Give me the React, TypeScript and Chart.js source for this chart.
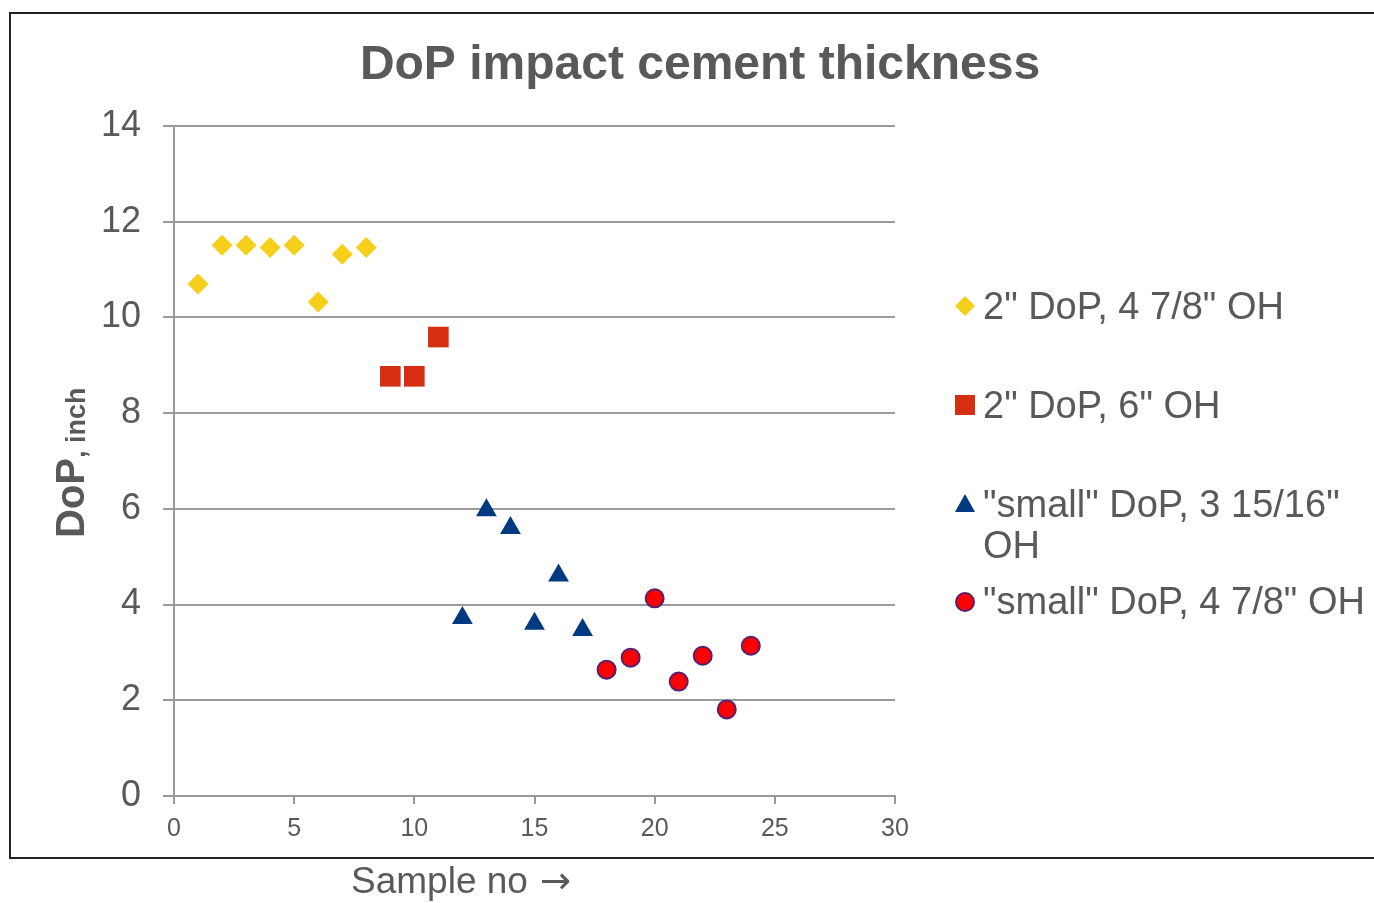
import React, { useEffect, useRef } from 'react';
import { Chart, registerables } from 'chart.js';

Chart.register(...registerables);

const chartTitle = 'DoP impact cement thickness';
const xAxisTitle = 'Sample no';
const xAxisArrow = '\u2192';
const yAxisTitleMain = 'DoP';
const yAxisTitleSub = ', inch';

const xMin = 0;
const xMax = 30;
const xStep = 5;
const yMin = 0;
const yMax = 14;
const yStep = 2;

const seriesNames = [
  '2" DoP, 4 7/8" OH',
  '2" DoP, 6" OH',
  '"small" DoP, 3 15/16" OH',
  '"small" DoP, 4 7/8" OH',
];
const legendLines = [
  ['2" DoP, 4 7/8" OH'],
  ['2" DoP, 6" OH'],
  ['"small" DoP, 3 15/16"', 'OH'],
  ['"small" DoP, 4 7/8" OH'],
];

const s1x = [1, 2, 3, 4, 5, 6, 7, 8];
const s1y = [10.7, 11.51, 11.51, 11.46, 11.51, 10.32, 11.32, 11.46];

const s2x = [9, 10, 11];
const s2y = [8.77, 8.77, 9.59];

const s3x = [12, 13, 14, 15, 16, 17];
const s3y = [3.72, 5.97, 5.6, 3.6, 4.61, 3.47];

const s4x = [18, 19, 20, 21, 22, 23, 24];
const s4y = [2.64, 2.89, 4.13, 2.39, 2.93, 1.81, 3.14];

const TEXT = '#595959';
const GRID = '#9a9a9a';
const FONT = "'Liberation Sans', Arial, sans-serif";

const pts = (xs: number[], ys: number[]) => xs.map((x, i) => ({ x, y: ys[i] }));

function drawMarker(ctx: CanvasRenderingContext2D, kind: number, x: number, y: number) {
  ctx.save();
  ctx.beginPath();
  if (kind === 0) {
    const r = 10;
    ctx.moveTo(x - r, y);
    ctx.lineTo(x, y - r);
    ctx.lineTo(x + r, y);
    ctx.lineTo(x, y + r);
    ctx.closePath();
    ctx.fillStyle = '#F6CF1A';
    ctx.fill();
  } else if (kind === 1) {
    ctx.rect(x - 10, y - 10, 20, 20);
    ctx.fillStyle = '#D52E12';
    ctx.fill();
  } else if (kind === 2) {
    ctx.moveTo(x, y - 10);
    ctx.lineTo(x + 10, y + 8);
    ctx.lineTo(x - 10, y + 8);
    ctx.closePath();
    ctx.fillStyle = '#023A82';
    ctx.fill();
  } else {
    ctx.arc(x, y, 9, 0, Math.PI * 2);
    ctx.fillStyle = '#FF0000';
    ctx.fill();
    ctx.lineWidth = 2;
    ctx.strokeStyle = '#5A2070';
    ctx.stroke();
  }
  ctx.restore();
}

const decorPlugin = {
  id: 'decor',
  afterDraw(chart: any) {
    const ctx: CanvasRenderingContext2D = chart.ctx;
    ctx.save();
    // frame
    ctx.strokeStyle = '#222222';
    ctx.lineWidth = 2;
    ctx.strokeRect(10, 13, 1400, 845);

    // title
    ctx.fillStyle = TEXT;
    ctx.font = `bold 48px ${FONT}`;
    ctx.textAlign = 'center';
    ctx.textBaseline = 'alphabetic';
    ctx.fillText(chartTitle, 700, 79);

    // x axis title
    ctx.font = `37px ${FONT}`;
    ctx.textAlign = 'left';
    ctx.fillText(xAxisTitle, 351, 893);
    ctx.font = `37px 'DejaVu Sans', sans-serif`;
    ctx.fillText(xAxisArrow, 540, 893);

    // y axis title (rotated)
    ctx.save();
    ctx.translate(84, 538);
    ctx.rotate(-Math.PI / 2);
    ctx.font = `bold 40px ${FONT}`;
    ctx.textAlign = 'left';
    ctx.fillText(yAxisTitleMain, 0, 0);
    const w = ctx.measureText(yAxisTitleMain).width;
    ctx.font = `bold 27px ${FONT}`;
    ctx.fillText(yAxisTitleSub, w, 1);
    ctx.restore();

    // legend
    const markerY = [306, 405, 504, 602];
    const baseY = [319, 418, 517, 614];
    ctx.font = `38px ${FONT}`;
    ctx.fillStyle = TEXT;
    ctx.textAlign = 'left';
    legendLines.forEach((lines, i) => {
      drawMarker(ctx, i, 965, markerY[i]);
      ctx.fillStyle = TEXT;
      lines.forEach((ln, j) => {
        ctx.fillText(ln, 983, baseY[i] + j * 41);
      });
    });
    ctx.restore();
  },
};

export default function App() {
  const ref = useRef<HTMLCanvasElement | null>(null);

  useEffect(() => {
    if (!ref.current) return;
    const chart = new Chart(ref.current, {
      type: 'scatter',
      data: {
        datasets: [
          {
            label: seriesNames[0],
            data: pts(s1x, s1y),
            pointStyle: 'rectRot',
            pointRadius: 10.5,
            backgroundColor: '#F6CF1A',
            borderColor: '#F6CF1A',
            borderWidth: 0,
          },
          {
            label: seriesNames[1],
            data: pts(s2x, s2y),
            pointStyle: 'rect',
            pointRadius: 14.6,
            backgroundColor: '#D52E12',
            borderColor: '#D52E12',
            borderWidth: 0,
          },
          {
            label: seriesNames[2],
            data: pts(s3x, s3y),
            pointStyle: 'triangle',
            pointRadius: 12,
            backgroundColor: '#023A82',
            borderColor: '#023A82',
            borderWidth: 0,
          },
          {
            label: seriesNames[3],
            data: pts(s4x, s4y),
            pointStyle: 'circle',
            pointRadius: 9,
            backgroundColor: '#FF0000',
            borderColor: '#5A2070',
            borderWidth: 2,
          },
        ],
      },
      options: {
        responsive: false,
        animation: false,
        devicePixelRatio: 1,
        layout: { padding: { left: 0, top: 126, right: 479, bottom: 0 } },
        plugins: {
          legend: { display: false },
          title: { display: false },
          tooltip: { enabled: false },
        },
        scales: {
          x: {
            type: 'linear',
            min: xMin,
            max: xMax,
            ticks: {
              stepSize: xStep,
              color: TEXT,
              font: { family: FONT, size: 25 },
              padding: 10,
            },
            grid: {
              drawOnChartArea: false,
              drawTicks: true,
              tickLength: 8,
              color: GRID,
              lineWidth: 2,
            },
            border: { display: true, color: GRID, width: 2 },
            afterFit: (scale: any) => {
              scale.height = 107;
              scale.paddingLeft = 0;
              scale.paddingRight = 0;
            },
          },
          y: {
            type: 'linear',
            min: yMin,
            max: yMax,
            ticks: {
              stepSize: yStep,
              color: TEXT,
              font: { family: FONT, size: 36 },
              padding: 22,
            },
            grid: {
              drawTicks: true,
              tickLength: 11,
              color: GRID,
              lineWidth: 2,
            },
            border: { display: true, color: GRID, width: 2 },
            afterFit: (scale: any) => {
              scale.width = 174;
              scale.paddingTop = 0;
              scale.paddingBottom = 0;
            },
          },
        },
      },
      plugins: [decorPlugin],
    });
    return () => chart.destroy();
  }, []);

  return (
    <div style={{ position: 'fixed', left: 0, top: 0, width: 1374, height: 903, background: '#ffffff' }}>
      <canvas ref={ref} width={1374} height={903} style={{ width: 1374, height: 903, display: 'block' }} />
    </div>
  );
}
